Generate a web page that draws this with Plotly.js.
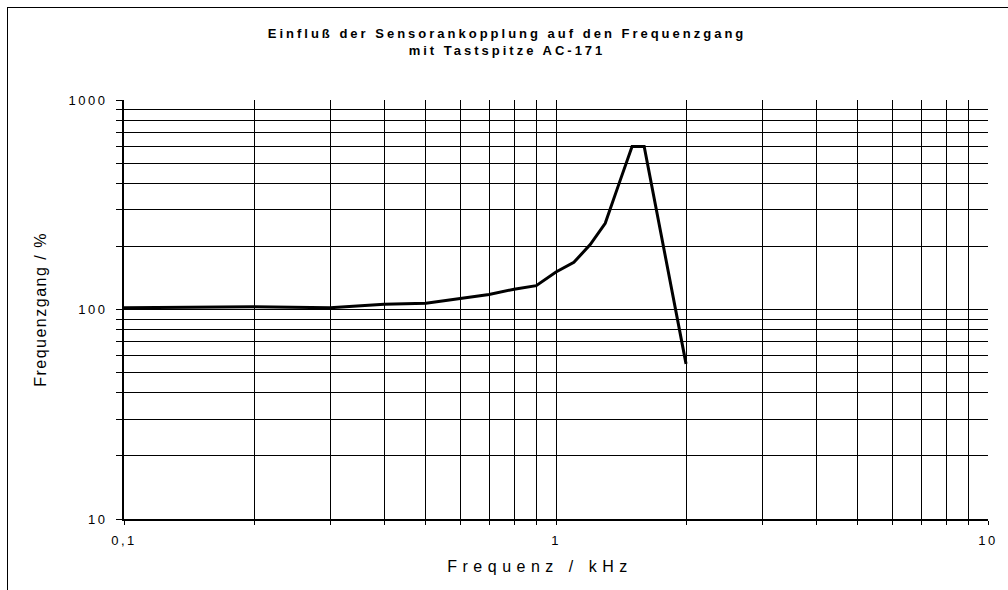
<!DOCTYPE html>
<html>
<head>
<meta charset="utf-8">
<script src="https://cdn.plot.ly/plotly-3.0.1.min.js"></script>
<style>
  html, body { margin: 0; padding: 0; background: #fff; }
  #wrap { position: relative; width: 1008px; height: 590px; overflow: hidden; }
  #chart { position: absolute; left: 0; top: 0; width: 1008px; height: 590px; }
  #frame { position: absolute; left: 7px; top: 7px; width: 1010px; height: 600px;
           border-left: 1.5px solid #000; border-top: 1.5px solid #000; pointer-events: none; }
  #chart .gtitle { letter-spacing: 3px; }
  #chart .xtitle { letter-spacing: 5.5px; transform: translateX(-16px); }
  #chart .ytitle { letter-spacing: 1.5px; }
  #chart .xtick text, #chart .ytick text { letter-spacing: 2.5px; }
</style>
</head>
<body>
<div id="wrap">
  <div id="chart"></div>
  <div id="frame"></div>
</div>
<script>
// Frequency (kHz)
const freq = [0.1, 0.2, 0.3, 0.4, 0.5, 0.6, 0.7, 0.8, 0.9, 1.0, 1.1, 1.2, 1.3, 1.4, 1.5, 1.6, 2.0];
// Frequenzgang (%)
const response = [102, 103, 102, 106, 107, 113, 118, 125, 130, 151, 168, 204, 258, 400, 600, 600, 55];

const xTickVals = [0.1,0.2,0.3,0.4,0.5,0.6,0.7,0.8,0.9,1,2,3,4,5,6,7,8,9,10];
const xTickText = ['0,1','','','','','','','','','1','','','','','','','','','10'];
const yTickVals = [10,20,30,40,50,60,70,80,90,100,200,300,400,500,600,700,800,900,1000];
const yTickText = ['10','','','','','','','','','100','','','','','','','','','1000'];

const trace = {
  x: freq, y: response, type: 'scatter', mode: 'lines',
  line: { color: '#000', width: 3 },
  hoverinfo: 'none'
};

const layout = {
  width: 1008, height: 590,
  margin: { l: 124, r: 20, t: 100, b: 71 },
  paper_bgcolor: '#fff', plot_bgcolor: '#fff',
  showlegend: false,
  separators: ',.',
  font: { family: 'Arial, "Liberation Sans", sans-serif', color: '#000' },
  title: {
    text: '<b>Einfluß der Sensorankopplung auf den Frequenzgang<br>mit Tastspitze AC-171</b>',
    font: { size: 13, family: 'Arial, "Liberation Sans", sans-serif', color: '#000' },
    x: 0.503, xanchor: 'center', xref: 'container',
    y: 0.935, yanchor: 'middle', yref: 'container'
  },
  xaxis: {
    type: 'log', range: [-1, 1],
    tickmode: 'array', tickvals: xTickVals, ticktext: xTickText,
    ticks: 'outside', ticklen: 4, tickcolor: '#000', tickwidth: 1,
    ticklabelstandoff: 4,
    showgrid: true, gridcolor: '#000', gridwidth: 1,
    showline: true, linecolor: '#000', linewidth: 2,
    zeroline: false,
    tickfont: { size: 13, color: '#000' },
    title: { text: 'Frequenz / kHz', font: { size: 16, color: '#000' }, standoff: 14 }
  },
  yaxis: {
    type: 'log', range: [1, 3],
    tickmode: 'array', tickvals: yTickVals, ticktext: yTickText,
    ticks: 'outside', ticklen: 6, tickcolor: '#000', tickwidth: 1,
    ticklabelstandoff: 6,
    showgrid: true, gridcolor: '#000', gridwidth: 1,
    showline: true, linecolor: '#000', linewidth: 2,
    zeroline: false,
    tickfont: { size: 13, color: '#000' },
    title: { text: 'Frequenzgang / %', font: { size: 16, color: '#000' }, standoff: 28 }
  }
};

Plotly.newPlot('chart', [trace], layout, { staticPlot: true, displayModeBar: false });
</script>
</body>
</html>
